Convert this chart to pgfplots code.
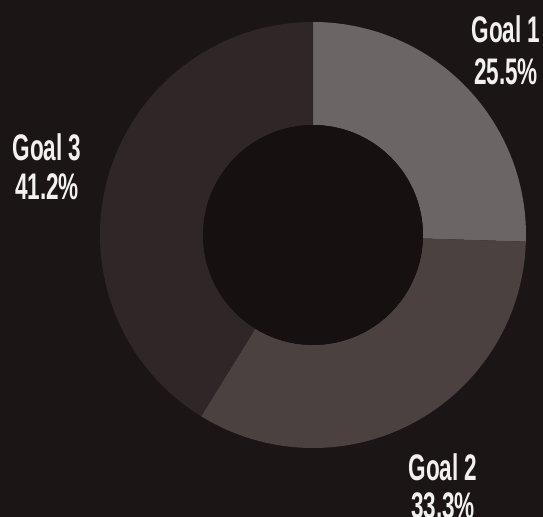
\documentclass[border=0pt]{standalone}
\usepackage{pgfplots}
\pgfplotsset{compat=1.18}
\usepackage{pgfplotstable}
\usepackage{fontspec}
\setmainfont[FakeStretch=0.61]{Liberation Sans}
\definecolor{bg}{HTML}{1B1515}
\definecolor{hole}{HTML}{161010}
\definecolor{cA}{HTML}{6B6565}
\definecolor{cB}{HTML}{4B4141}
\definecolor{cC}{HTML}{2F2727}
\definecolor{txt}{HTML}{F2F0F0}
\pgfplotstableread{
label value
G1 25.5
G2 33.3
G3 41.2
}\goals
\pgfplotstablegetelem{0}{value}\of\goals \let\vA\pgfplotsretval
\pgfplotstablegetelem{1}{value}\of\goals \let\vB\pgfplotsretval
\pgfplotstablegetelem{2}{value}\of\goals \let\vC\pgfplotsretval
\pgfmathsetmacro\aA{90}
\pgfmathsetmacro\aB{\aA-3.6*\vA}
\pgfmathsetmacro\aC{\aB-3.6*\vB}
\pgfmathsetmacro\aD{\aC-3.6*\vC}
\def\R{213}
\def\r{110}
\begin{document}
\begin{tikzpicture}
\useasboundingbox (0,0) rectangle (543bp,517bp);
\begin{axis}[
  at={(0,0)}, anchor=south west,
  x=1bp, y=1bp, scale only axis,
  xmin=-313, xmax=230, ymin=-282, ymax=235,
  hide axis, clip=true,
]
\fill[bg] (rel axis cs:0,0) rectangle (rel axis cs:1,1);
\fill[cA] ({\R*cos(\aA)},{\R*sin(\aA)}) arc[start angle=\aA, end angle=\aB, radius=\R bp]
  -- ({\r*cos(\aB)},{\r*sin(\aB)}) arc[start angle=\aB, end angle=\aA, radius=\r bp] -- cycle;
\fill[cB] ({\R*cos(\aB)},{\R*sin(\aB)}) arc[start angle=\aB, end angle=\aC, radius=\R bp]
  -- ({\r*cos(\aC)},{\r*sin(\aC)}) arc[start angle=\aC, end angle=\aB, radius=\r bp] -- cycle;
\fill[cC] ({\R*cos(\aC)},{\R*sin(\aC)}) arc[start angle=\aC, end angle=\aD, radius=\R bp]
  -- ({\r*cos(\aD)},{\r*sin(\aD)}) arc[start angle=\aD, end angle=\aC, radius=\r bp] -- cycle;
\fill[hole] (0,0) circle[radius=\r bp];
\tikzset{lab/.style={text=txt, anchor=base, inner sep=0pt, font=\fontsize{37bp}{42bp}\bfseries\selectfont}}
\node[lab] at (193,192) {Goal 1};
\node[lab] at (193,150) {25.5\%};
\node[lab] at (-266,75) {Goal 3};
\node[lab] at (-266,36) {41.2\%};
\node[lab] at (130,-245) {Goal 2};
\node[lab] at (130,-283) {33.3\%};
\end{axis}
\end{tikzpicture}
\end{document}
